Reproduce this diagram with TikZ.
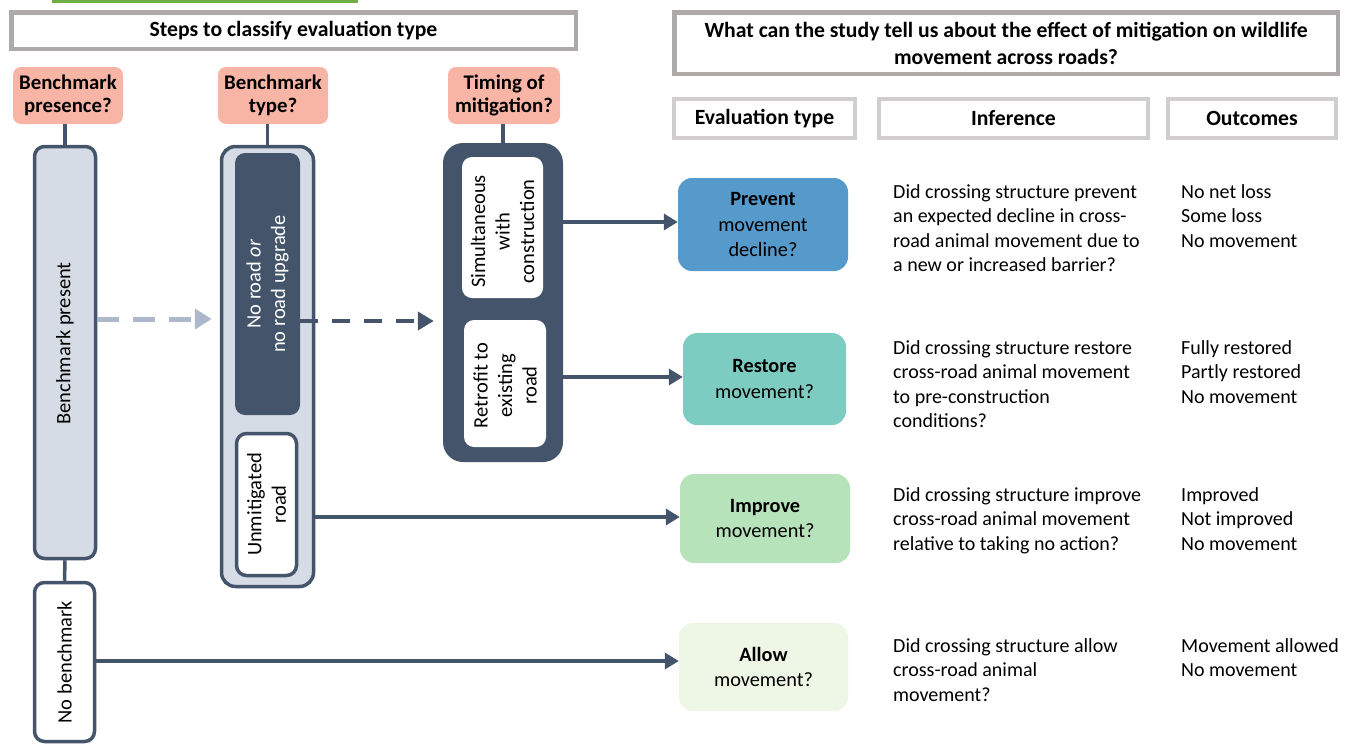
\documentclass[tikz,border=0pt]{standalone}
\usepackage{fontspec}
\setmainfont{Carlito}
\usetikzlibrary{arrows.meta,calc}
\definecolor{dk}{HTML}{44546A}
\definecolor{lt}{HTML}{D6DCE5}
\definecolor{dashlt}{HTML}{ADB9CA}
\definecolor{salmon}{HTML}{F8B5A5}
\definecolor{hdrgray}{HTML}{AEAAAA}
\definecolor{colgray}{HTML}{D0CECE}
\definecolor{grn}{HTML}{70AD47}
\definecolor{cprev}{HTML}{5699CB}
\definecolor{crest}{HTML}{7DCCC2}
\definecolor{cimpr}{HTML}{B7E3BB}
\definecolor{callow}{HTML}{EEF6E6}
\tikzset{
  hdr/.style={draw=hdrgray, line width=4.5pt, fill=white, inner sep=0pt, font=\fontsize{21.7}{27}\selectfont\bfseries, align=center},
  colhdr/.style={draw=colgray, line width=4pt, fill=white, inner sep=0pt, font=\fontsize{21.7}{24}\selectfont\bfseries, align=center},
  q/.style={fill=salmon, rounded corners=8pt, inner sep=0pt, font=\fontsize{20.8}{22.5}\selectfont\bfseries, align=center},
  ltbox/.style={draw=dk, line width=3.5pt, fill=lt, rounded corners=10pt, inner sep=0pt},
  whbox/.style={draw=dk, line width=3.5pt, fill=white, rounded corners=10pt, inner sep=0pt},
  dkbox/.style={fill=dk, rounded corners=10pt, inner sep=0pt},
  plain/.style={fill=white, rounded corners=10pt, inner sep=0pt},
  evbox/.style={rounded corners=14pt, inner sep=0pt, align=center, font=\fontsize{20.3}{25.5}\selectfont},
  rot/.style={rotate=90, align=center, inner sep=0pt, font=\fontsize{20.5}{24.5}\selectfont},
  conn/.style={draw=dk, line width=3.5pt},
  arr/.style={draw=dk, line width=3.5pt, -{Triangle[length=14pt,width=16pt]}},
  txt/.style={anchor=base west, align=left, inner sep=0pt, font=\fontsize{20}{24.5}\selectfont}
}
\begin{document}
\begin{tikzpicture}[x=1pt,y=-1pt]
\useasboundingbox (0,0) rectangle (1352,744);
% green bar at top
\fill[grn] (52,0) rectangle (358,3);
% headers
\node[hdr, minimum width=564.5pt, minimum height=36.5pt] (h1) at (293.5,30.5) {Steps to classify evaluation type};
\node[hdr, minimum width=663.5pt, minimum height=61.5pt] (h2) at (1006,43) {What can the study tell us about the effect of mitigation on wildlife\\movement across roads?};
\node[colhdr, minimum width=181pt, minimum height=39pt] (c1) at (764.5,118.5) {Evaluation type};
\node[colhdr, minimum width=269pt, minimum height=39pt] (c2) at (1013.5,118.5) {Inference};
\node[colhdr, minimum width=168pt, minimum height=39pt] (c3) at (1252,118.5) {Outcomes};
% question boxes
\node[q, minimum width=110pt, minimum height=57pt] (pres) at (68,95.5) {Benchmark\\presence?};
\node[q, minimum width=110pt, minimum height=57pt] (btype) at (273,95.5) {Benchmark\\type?};
\node[q, minimum width=112pt, minimum height=57pt] (timing) at (504,95.5) {Timing of\\mitigation?};
% left column
\node[ltbox, minimum width=61pt, minimum height=412pt] (bp) at (65,352.5) {};
\node[rot] (bpt) at ($(bp.center)+(0,-9)$) {Benchmark present};
\node[whbox, minimum width=60pt, minimum height=159pt] (nob) at (64.5,662) {};
\node[rot] (nobt) at (nob.center) {No benchmark};
% benchmark type column
\node[ltbox, rounded corners=14pt, minimum width=92pt, minimum height=440pt] (typ) at (267.5,366.5) {};
\node[dkbox, minimum width=65pt, minimum height=262pt] (noroad) at (267.5,284) {};
\node[rot, text=white] (noroadt) at (noroad.center) {No road \textit{or}\\no road upgrade};
\node[whbox, minimum width=60pt, minimum height=142pt] (unmit) at (266.5,504.5) {};
\node[rot] (unmitt) at (unmit.center) {Unmitigated\\road};
% timing column
\node[dkbox, rounded corners=20pt, minimum width=120pt, minimum height=319pt] (tim) at (503,302.5) {};
\node[plain, minimum width=81pt, minimum height=141pt] (sim) at (502.5,227.5) {};
\node[rot] (simt) at ($(sim.center)+(0,4)$) {Simultaneous\\with\\construction};
\node[plain, minimum width=82pt, minimum height=127pt] (retro) at (505,383.5) {};
\node[rot] (retrot) at ($(retro.center)+(0,2)$) {Retrofit to\\existing\\road};
% evaluation boxes
\node[evbox, fill=cprev, minimum width=170pt, minimum height=93pt] (prev) at (763,224.5) {\textbf{Prevent}\\movement\\decline?};
\node[evbox, fill=crest, minimum width=163pt, minimum height=92pt] (rest) at (764.5,379) {\textbf{Restore}\\movement?};
\node[evbox, fill=cimpr, minimum width=170pt, minimum height=89pt] (impr) at (765,518.5) {\textbf{Improve}\\movement?};
\node[evbox, fill=callow, minimum width=169pt, minimum height=88pt] (allow) at (763.5,667) {\textbf{Allow}\\movement?};
% inference texts (anchor at baseline of last line)
\node[txt] (i1) at (893,271.5) {Did crossing structure prevent\\an expected decline in cross-\\road animal movement due to\\a new or increased barrier?};
\node[txt] (i2) at (893,427.5) {Did crossing structure restore\\cross-road animal movement\\to pre-construction\\conditions?};
\node[txt] (i3) at (893,550) {Did crossing structure improve\\cross-road animal movement\\relative to taking no action?};
\node[txt] (i4) at (893,701) {Did crossing structure allow\\cross-road animal\\movement?};
% outcomes
\node[txt] (o1) at (1181,247) {No net loss\\Some loss\\No movement};
\node[txt] (o2) at (1181,403) {Fully restored\\Partly restored\\No movement};
\node[txt] (o3) at (1181,550) {Improved\\Not improved\\No movement};
\node[txt] (o4) at (1181,676.5) {Movement allowed\\No movement};
% vertical connectors
\draw[conn] (pres.south -| bp.north) -- (bp.north);
\draw[conn] (btype.south -| typ.north) -- (typ.north);
\draw[conn] (timing.south -| tim.north) -- (tim.north);
\draw[conn] (bp.south) -- (nob.north);
% dashed arrows
\coordinate (d1a) at ($(bp.east)+(0,-33.5)$);
\coordinate (d1b) at ($(d1a -| typ.west)+(-8,0)$);
\draw[draw=dashlt, line width=5pt, dash pattern=on 22pt off 14pt, -{Triangle[length=17pt,width=20pt,fill=dashlt]}] (d1a) -- (d1b);
\coordinate (d2a) at ($(noroad.east)+(0,37)$);
\coordinate (d2b) at ($(d2a -| tim.west)+(-9,0)$);
\draw[draw=dk, line width=4pt, dash pattern=on 18pt off 14pt, -{Triangle[length=16pt,width=18pt]}] (d2a) -- (d2b);
% solid arrows
\draw[arr] ($(prev.west -| tim.east)+(0,-2.5)$) -- ($(prev.west)+(0,-2.5)$);
\draw[arr] ($(rest.west -| tim.east)+(0,-2)$) -- ($(rest.west)+(0,-2)$);
\draw[arr] ($(impr.west -| typ.east)+(0,-1.5)$) -- ($(impr.west)+(0,-1.5)$);
\draw[arr] ($(nob.east)+(0,-1)$) -- ($(nob.east -| allow.west)+(0,-1)$);
\end{tikzpicture}
\end{document}
